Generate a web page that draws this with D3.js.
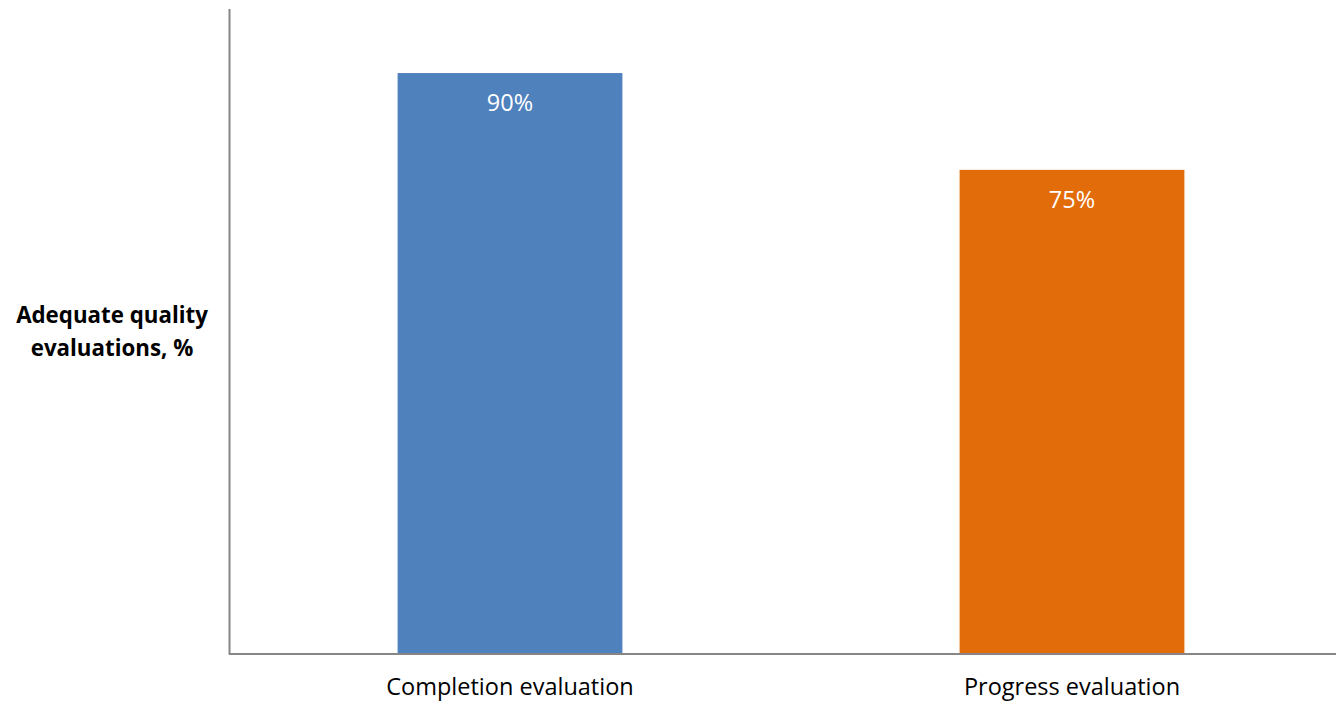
<!DOCTYPE html>
<html>
<head>
<meta charset="utf-8">
<script src="https://cdn.jsdelivr.net/npm/d3@7"></script>
<style>
  html, body { margin: 0; padding: 0; background: #ffffff; }
  svg { display: block; }
  text { font-variant-ligatures: none; }
</style>
</head>
<body>
<svg id="chart" width="1336" height="702"></svg>
<script>
// Share of evaluations rated adequate quality, by evaluation type
const categories = ["Completion evaluation", "Progress evaluation"];
const values = [90, 75];
const barColors = ["#4F81BD", "#E36C0A"];
const yTitleLines = ["Adequate quality", "evaluations, %"];

const svg = d3.select("#chart");
const fontFamily = "'Open Sans', sans-serif";

const x0 = 229, x1 = 1353, yBase = 654, yTop = 8.5;

const x = d3.scaleBand()
  .domain(categories)
  .range([x0, x1])
  .paddingInner(0.6)
  .paddingOuter(0.3);

const y = d3.scaleLinear()
  .domain([0, 100])
  .range([yBase, yTop]);

// Bars
svg.append("g")
  .selectAll("rect")
  .data(categories)
  .join("rect")
  .attr("x", d => x(d))
  .attr("y", (d, i) => y(values[i]))
  .attr("width", x.bandwidth())
  .attr("height", (d, i) => y(0) - y(values[i]))
  .attr("fill", (d, i) => barColors[i]);

// Value labels inside bar tops
svg.append("g")
  .selectAll("text")
  .data(categories)
  .join("text")
  .attr("x", d => x(d) + x.bandwidth() / 2)
  .attr("y", (d, i) => y(values[i]) + 38)
  .attr("text-anchor", "middle")
  .attr("fill", "#ffffff")
  .attr("font-family", fontFamily)
  .attr("font-size", 23.5)
  .text((d, i) => values[i] + "%");

// Axes: plain lines without ticks
const xAxis = d3.axisBottom(x).tickSize(0).tickPadding(0);
const gx = svg.append("g")
  .attr("transform", `translate(0,${yBase})`)
  .call(xAxis);
gx.select(".domain")
  .attr("d", `M${x0},0H1336`)
  .attr("stroke", "#868686")
  .attr("stroke-width", 2);
gx.selectAll(".tick text")
  .attr("font-family", fontFamily)
  .attr("font-size", 23.5)
  .attr("fill", "#000000")
  .attr("y", 41)
  .attr("dy", 0);

const yAxis = d3.axisLeft(y).tickValues([]).tickSizeOuter(0);
const gy = svg.append("g")
  .attr("transform", `translate(${x0},0)`)
  .call(yAxis);
gy.select(".domain")
  .attr("stroke", "#868686")
  .attr("stroke-width", 2);

// Y axis title
const yTitle = svg.append("text")
  .attr("text-anchor", "middle")
  .attr("font-family", fontFamily)
  .attr("font-weight", "bold")
  .attr("font-size", 22.3)
  .attr("fill", "#000000");
yTitle.selectAll("tspan")
  .data(yTitleLines)
  .join("tspan")
  .attr("x", 112)
  .attr("y", (d, i) => 323 + i * 33)
  .text(d => d);
</script>
</body>
</html>
